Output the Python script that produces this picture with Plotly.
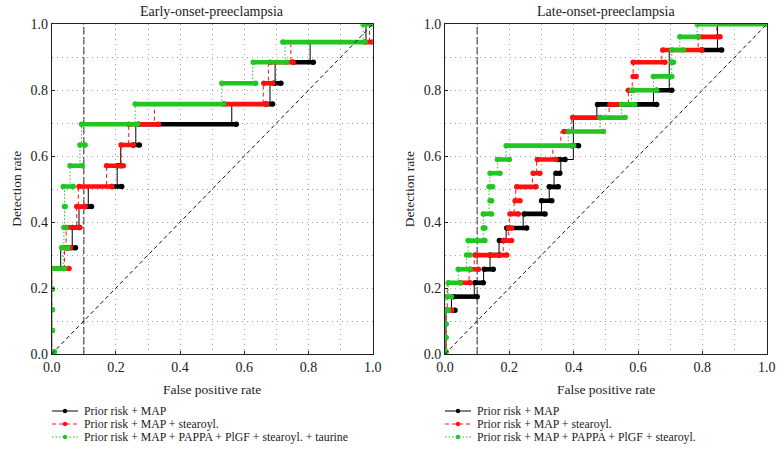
import plotly.graph_objects as go

FONT = "'Liberation Serif', 'Times New Roman', Times, serif"
W, H = 782, 464

BLACK = "#000000"
RED = "#ff1010"
GREEN = "#22c622"

NAMES_EARLY = ["Prior risk + MAP", "Prior risk + MAP + stearoyl.",
               "Prior risk + MAP + PAPPA + PlGF + stearoyl. + taurine"]
NAMES_LATE = ["Prior risk + MAP", "Prior risk + MAP + stearoyl.",
              "Prior risk + MAP + PAPPA + PlGF + stearoyl."]
TITLES = ["Early-onset-preeclampsia", "Late-onset-preeclampsia"]
X_TITLE = "False positive rate"
Y_TITLE = "Detection rate"
TICKS = [0.0, 0.2, 0.4, 0.6, 0.8, 1.0]
TICK_TEXT = ["0.0", "0.2", "0.4", "0.6", "0.8", "1.0"]

# ---------------- Early onset ----------------
early_black_fpr = [0, 0, 0.028, 0.064, 0.085, 0.114, 0.204, 0.215, 0.262, 0.561, 0.68, 0.696, 0.805, 0.979, 1.0]
early_black_tpr = [0, 0.259, 0.322, 0.384, 0.447, 0.508, 0.571, 0.634, 0.697, 0.758, 0.821, 0.885, 0.946, 1.0, 1.0]
early_black_run_tpr = [0.259, 0.322, 0.384, 0.447, 0.508, 0.571, 0.634, 0.697, 0.758, 0.821, 0.885]
early_black_run_lo = [0.0, 0.047, 0.065, 0.104, 0.187, 0.205, 0.254, 0.27, 0.665, 0.693, 0.752]
early_black_run_hi = [0.036, 0.074, 0.085, 0.124, 0.218, 0.215, 0.273, 0.575, 0.688, 0.714, 0.815]

early_red_fpr = [0, 0, 0.04, 0.045, 0.078, 0.083, 0.171, 0.216, 0.24, 0.32, 0.659, 0.675, 0.745, 0.99, 1.0]
early_red_tpr = [0, 0.259, 0.322, 0.384, 0.447, 0.508, 0.571, 0.634, 0.697, 0.758, 0.821, 0.885, 0.946, 1.0, 1.0]
early_red_run_tpr = [0.259, 0.322, 0.384, 0.447, 0.508, 0.571, 0.634, 0.697, 0.758, 0.821, 0.885, 0.946]
early_red_run_lo = [0.0, 0.04, 0.045, 0.078, 0.085, 0.171, 0.216, 0.24, 0.537, 0.661, 0.68, 0.976]
early_red_run_hi = [0.054, 0.058, 0.088, 0.104, 0.187, 0.223, 0.254, 0.332, 0.67, 0.688, 0.752, 1.0]

early_green_fpr = [0, 0, 0.036, 0.038, 0.04, 0.04, 0.057, 0.088, 0.093, 0.26, 0.53, 0.626, 0.727, 0.97, 1.0]
early_green_tpr = [0, 0.259, 0.322, 0.384, 0.447, 0.508, 0.571, 0.634, 0.697, 0.758, 0.821, 0.885, 0.946, 1.0, 1.0]
early_green_run_tpr = [0.007, 0.071, 0.134, 0.197, 0.259, 0.322, 0.384, 0.447, 0.508, 0.571, 0.634, 0.697, 0.758, 0.821, 0.885, 0.946, 1.0]
early_green_run_lo = [0.008, 0.002, 0.002, 0.002, 0.0, 0.031, 0.038, 0.04, 0.036, 0.057, 0.088, 0.093, 0.26, 0.53, 0.628, 0.72, 0.97]
early_green_run_hi = [0.008, 0.002, 0.002, 0.002, 0.04, 0.05, 0.044, 0.042, 0.067, 0.095, 0.104, 0.267, 0.535, 0.635, 0.732, 0.976, 1.0]

# ---------------- Late onset ----------------
late_black_fpr = [0, 0.003, 0.02, 0.091, 0.12, 0.14, 0.168, 0.19, 0.243, 0.3, 0.324, 0.339, 0.36, 0.399, 0.399, 0.399, 0.472, 0.648, 0.697, 0.697, 0.697, 0.847, 0.847, 1.0]
late_black_tpr = [0, 0.133, 0.174, 0.216, 0.257, 0.30, 0.344, 0.382, 0.425, 0.465, 0.507, 0.548, 0.59, 0.632, 0.675, 0.717, 0.757, 0.80, 0.842, 0.885, 0.922, 0.962, 1.0, 1.0]
late_black_run_tpr = [0.133, 0.174, 0.216, 0.257, 0.30, 0.344, 0.382, 0.425, 0.465, 0.507, 0.548, 0.59, 0.632, 0.757, 0.80, 0.922]
late_black_run_lo = [0.003, 0.026, 0.093, 0.122, 0.14, 0.169, 0.192, 0.246, 0.30, 0.324, 0.345, 0.352, 0.394, 0.474, 0.658, 0.798]
late_black_run_hi = [0.031, 0.10, 0.119, 0.15, 0.17, 0.183, 0.254, 0.311, 0.332, 0.352, 0.357, 0.373, 0.415, 0.658, 0.705, 0.86]

late_red_fpr = [0, 0.003, 0.007, 0.007, 0.075, 0.091, 0.181, 0.197, 0.20, 0.215, 0.22, 0.272, 0.285, 0.335, 0.36, 0.394, 0.51, 0.57, 0.582, 0.585, 0.674, 0.787, 0.845, 1.0]
late_red_tpr = [0, 0.133, 0.174, 0.216, 0.257, 0.30, 0.344, 0.382, 0.425, 0.465, 0.507, 0.548, 0.59, 0.632, 0.675, 0.717, 0.757, 0.80, 0.842, 0.885, 0.922, 0.962, 1.0, 1.0]
late_red_run_tpr = [0.133, 0.216, 0.257, 0.30, 0.344, 0.382, 0.425, 0.465, 0.507, 0.548, 0.59, 0.675, 0.717, 0.757, 0.80, 0.842, 0.885, 0.922, 0.962]
late_red_run_lo = [0.007, 0.047, 0.078, 0.093, 0.181, 0.197, 0.202, 0.218, 0.223, 0.274, 0.287, 0.37, 0.397, 0.513, 0.57, 0.585, 0.585, 0.677, 0.787]
late_red_run_hi = [0.021, 0.078, 0.104, 0.192, 0.207, 0.207, 0.228, 0.233, 0.283, 0.295, 0.345, 0.384, 0.482, 0.549, 0.585, 0.594, 0.684, 0.798, 0.855]

late_green_fpr = [0, 0.0, 0.01, 0.041, 0.067, 0.072, 0.119, 0.119, 0.137, 0.137, 0.14, 0.163, 0.19, 0.383, 0.482, 0.549, 0.58, 0.648, 0.705, 0.705, 0.73, 0.784, 1.0]
late_green_tpr = [0, 0.174, 0.216, 0.257, 0.30, 0.344, 0.382, 0.425, 0.465, 0.507, 0.548, 0.59, 0.632, 0.675, 0.717, 0.757, 0.80, 0.842, 0.885, 0.922, 0.962, 1.0, 1.0]
late_green_run_tpr = [0.007, 0.05, 0.091, 0.133, 0.174, 0.216, 0.257, 0.30, 0.344, 0.382, 0.425, 0.465, 0.507, 0.548, 0.59, 0.632, 0.675, 0.717, 0.757, 0.80, 0.842, 0.885, 0.922, 0.962, 1.0]
late_green_run_lo = [0.003, 0.003, 0.003, 0.003, 0.0, 0.01, 0.041, 0.067, 0.072, 0.119, 0.119, 0.14, 0.137, 0.14, 0.163, 0.19, 0.383, 0.482, 0.549, 0.58, 0.648, 0.705, 0.705, 0.73, 0.784]
late_green_run_hi = [0.003, 0.003, 0.003, 0.01, 0.02, 0.047, 0.078, 0.078, 0.124, 0.124, 0.145, 0.145, 0.148, 0.171, 0.20, 0.40, 0.492, 0.56, 0.59, 0.658, 0.705, 0.71, 0.741, 0.787, 1.0]

STYLES = [(BLACK, "solid"), (RED, "4px,3px"), (GREEN, "1.5px,2px")]

fig = go.Figure()


def add_series(xa, ya, fpr, tpr, rt, rlo, rhi, color, dash):
    fig.add_trace(go.Scatter(x=fpr, y=tpr, mode="lines", xaxis=xa, yaxis=ya,
                             line=dict(color=color, width=1, dash=dash, shape="hv"),
                             showlegend=False, hoverinfo="skip"))
    rx, ry = [], []
    for t, lo, hi in zip(rt, rlo, rhi):
        rx += [lo, hi, None]
        ry += [t, t, None]
    fig.add_trace(go.Scatter(x=rx, y=ry, mode="lines+markers", xaxis=xa, yaxis=ya,
                             line=dict(color=color, width=4.6),
                             marker=dict(color=color, size=5.5),
                             showlegend=False, hoverinfo="skip"))


panels = [
    ("x", "y", [
        (early_black_fpr, early_black_tpr, early_black_run_tpr, early_black_run_lo, early_black_run_hi),
        (early_red_fpr, early_red_tpr, early_red_run_tpr, early_red_run_lo, early_red_run_hi),
        (early_green_fpr, early_green_tpr, early_green_run_tpr, early_green_run_lo, early_green_run_hi),
    ]),
    ("x2", "y2", [
        (late_black_fpr, late_black_tpr, late_black_run_tpr, late_black_run_lo, late_black_run_hi),
        (late_red_fpr, late_red_tpr, late_red_run_tpr, late_red_run_lo, late_red_run_hi),
        (late_green_fpr, late_green_tpr, late_green_run_tpr, late_green_run_lo, late_green_run_hi),
    ]),
]

for xa, ya, series in panels:
    for (fpr, tpr, rt, rlo, rhi), (color, dash) in zip(series, STYLES):
        add_series(xa, ya, fpr, tpr, rt, rlo, rhi, color, dash)

# reference lines
shapes = []
for xr, yr in [("x", "y"), ("x2", "y2")]:
    shapes.append(dict(type="line", xref=xr, yref=yr, x0=0, y0=0, x1=1, y1=1,
                       line=dict(color="#111", width=1, dash="4px,3px"), layer="above"))
    shapes.append(dict(type="line", xref=xr, yref=yr, x0=0.1, y0=0, x1=0.1, y1=1,
                       line=dict(color="#444", width=1.2, dash="7px,3px"), layer="below"))

x_px = [(51.7, 372.7), (445.0, 766.7)]
y_px = (24.3, 354.0)
x_domains = [[a / W, b / W] for a, b in x_px]
y_domain = [1 - y_px[1] / H, 1 - y_px[0] / H]

GRID = "#a0a0a0"


def axis_common():
    return dict(range=[0, 1], tickvals=TICKS, ticktext=TICK_TEXT, ticks="inside", ticklen=3,
                tickcolor="#222", showline=True, linecolor="#222", linewidth=1, mirror=True,
                showgrid=True, gridcolor=GRID, griddash="1px,4px", gridwidth=1,
                minor=dict(dtick=0.1, showgrid=True, gridcolor=GRID, griddash="1px,4px", ticks=""),
                zeroline=False, automargin=False,
                tickfont=dict(family=FONT, size=14, color="#222"),
                fixedrange=True)


xaxis = axis_common(); xaxis.update(domain=x_domains[0], anchor="y")
xaxis2 = axis_common(); xaxis2.update(domain=x_domains[1], anchor="y2")
yaxis = axis_common(); yaxis.update(domain=y_domain, anchor="x")
yaxis2 = axis_common(); yaxis2.update(domain=y_domain, anchor="x2")

annotations = []
for i, t in enumerate(TITLES):
    xc = (x_px[i][0] + x_px[i][1]) / 2 / W
    annotations.append(dict(text=t, x=xc, y=1 - 12 / H, xref="paper", yref="paper",
                            showarrow=False, xanchor="center", yanchor="middle",
                            font=dict(family=FONT, size=14, color="#222")))
    annotations.append(dict(text=X_TITLE, x=xc, y=1 - 389 / H, xref="paper", yref="paper",
                            showarrow=False, xanchor="center", yanchor="middle",
                            font=dict(family=FONT, size=13.5, color="#222")))
    annotations.append(dict(text=Y_TITLE, x=(x_px[i][0] - 36) / W,
                            y=1 - (y_px[0] + y_px[1]) / 2 / H, xref="paper", yref="paper",
                            showarrow=False, xanchor="center", yanchor="middle", textangle=-90,
                            font=dict(family=FONT, size=13.5, color="#222")))

# custom legends below each panel
legend_rows = [411.0, 424.0, 437.0]
legend_x0 = [52, 445]
for p, names in enumerate([NAMES_EARLY, NAMES_LATE]):
    for r, (name, (color, dash)) in enumerate(zip(names, STYLES)):
        yy = 1 - legend_rows[r] / H
        x0 = legend_x0[p]
        shapes.append(dict(type="line", xref="paper", yref="paper",
                           x0=x0 / W, x1=(x0 + 26) / W, y0=yy, y1=yy,
                           line=dict(color=color, width=1, dash=dash)))
        shapes.append(dict(type="circle", xref="paper", yref="paper",
                           x0=(x0 + 13 - 2.2) / W, x1=(x0 + 13 + 2.2) / W,
                           y0=yy - 2.2 / H, y1=yy + 2.2 / H,
                           fillcolor=color, line=dict(color=color, width=0)))
        annotations.append(dict(text=name, x=(x0 + 30) / W, y=yy, xref="paper", yref="paper",
                                showarrow=False, xanchor="left", yanchor="middle",
                                font=dict(family=FONT, size=11.8, color="#222")))

fig.update_layout(
    width=W, height=H, margin=dict(l=0, r=0, t=0, b=0, autoexpand=False),
    paper_bgcolor="white", plot_bgcolor="white", showlegend=False,
    xaxis=xaxis, yaxis=yaxis, xaxis2=xaxis2, yaxis2=yaxis2,
    shapes=shapes, annotations=annotations,
)

fig.write_html("out.html", config={"displayModeBar": False},
               post_script="document.body.style.margin='0';")
